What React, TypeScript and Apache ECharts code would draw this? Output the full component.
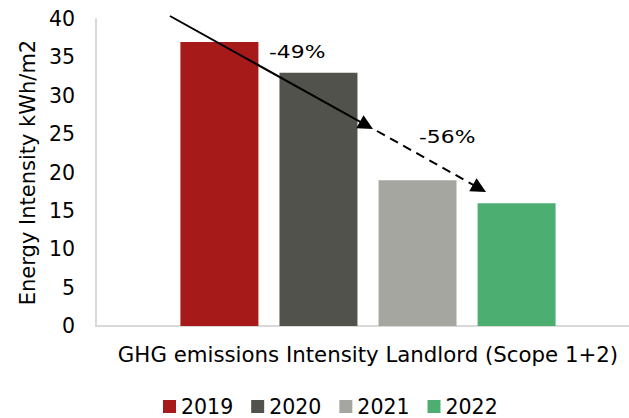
import React, { useEffect, useRef } from "react";
import * as echarts from "echarts";

const categories = ["GHG emissions Intensity Landlord (Scope 1+2)"];
const years = ["2019", "2020", "2021", "2022"];
const values = [37, 33, 19, 16];
const colors = ["#A61A1A", "#52524C", "#A6A6A1", "#4DAE72"];
const changeLabels = ["-49%", "-56%"];

const FONT = "DejaVu Sans, Verdana, sans-serif";

function arrow(x1: number, y1: number, x2: number, y2: number, dashed: boolean) {
  const dx = x2 - x1;
  const dy = y2 - y1;
  const len = Math.sqrt(dx * dx + dy * dy);
  const ux = dx / len;
  const uy = dy / len;
  const headLen = 15;
  const headHalf = 7.5;
  const bx = x2 - ux * headLen;
  const by = y2 - uy * headLen;
  return [
    {
      type: "line",
      shape: { x1, y1, x2: bx + ux * 2, y2: by + uy * 2 },
      style: { stroke: "#000", lineWidth: 2, lineDash: dashed ? [9, 6] : null },
      z: 10,
    },
    {
      type: "polygon",
      shape: {
        points: [
          [x2, y2],
          [bx - uy * headHalf, by + ux * headHalf],
          [bx + uy * headHalf, by - ux * headHalf],
        ],
      },
      style: { fill: "#000" },
      z: 10,
    },
  ];
}

export default function App() {
  const ref = useRef<HTMLDivElement>(null);
  useEffect(() => {
    if (!ref.current) return;
    const chart = echarts.init(ref.current, null, { renderer: "svg" });
    chart.setOption({
      animation: false,
      textStyle: { fontFamily: FONT },
      grid: { left: 96, top: 19, bottom: 92, right: 0, containLabel: false },
      legend: {
        data: years,
        left: 158,
        top: 391,
        itemWidth: 13,
        itemHeight: 13,
        itemGap: 18,
        icon: "rect",
        textStyle: { fontSize: 20.5, color: "#000", fontFamily: FONT, padding: [0, 0, 0, 0] },
      },
      xAxis: {
        type: "category",
        data: categories,
        axisLine: { show: true, lineStyle: { color: "#D9D9D9", width: 2 } },
        axisTick: { show: false },
        axisLabel: { fontSize: 21.3, color: "#000", fontFamily: FONT, margin: 18 },
      },
      yAxis: {
        type: "value",
        min: 0,
        max: 40,
        interval: 5,
        name: "Energy Intensity kWh/m2",
        nameLocation: "middle",
        nameGap: 57,
        nameRotate: 90,
        nameTextStyle: { fontSize: 21, color: "#000", fontFamily: FONT },
        axisLine: { show: true, lineStyle: { color: "#D9D9D9", width: 2 } },
        axisTick: { show: false },
        splitLine: { show: false },
        axisLabel: { fontSize: 20.5, color: "#000", fontFamily: FONT, margin: 21 },
      },
      series: years.map((y, i) => ({
        name: y,
        type: "bar",
        data: [values[i]],
        barWidth: 78,
        barGap: "27%",
        itemStyle: { color: colors[i] },
      })),
      graphic: [
        ...arrow(170, 16, 373, 129, false),
        ...arrow(377, 131, 486, 192, true),
        {
          type: "text",
          x: 269,
          y: 42,
          scaleX: 1.18,
          style: { text: changeLabels[0], fontSize: 18.5, fontFamily: FONT, fill: "#000" },
          z: 11,
        },
        {
          type: "text",
          x: 419,
          y: 127,
          scaleX: 1.18,
          style: { text: changeLabels[1], fontSize: 18.5, fontFamily: FONT, fill: "#000" },
          z: 11,
        },
      ],
    });
    return () => chart.dispose();
  }, []);
  return (
    <div style={{ width: 629, height: 418, position: "absolute", left: 0, top: 0, overflow: "hidden" }}>
      <div ref={ref} style={{ width: 640, height: 418 }} />
    </div>
  );
}
